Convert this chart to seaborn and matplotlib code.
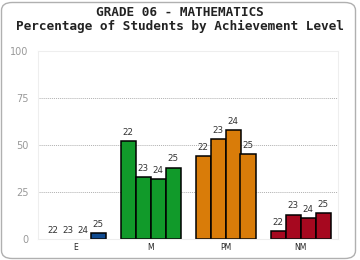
import matplotlib
matplotlib.use("Agg")
import matplotlib.pyplot as plt
from matplotlib.patches import FancyBboxPatch
import seaborn as sns
import pandas as pd

# achievement levels and years
levels = ["E", "M", "PM", "NM"]
years = ["22", "23", "24", "25"]
level_colors = ["#0f4a8f", "#119a2a", "#d97c09", "#a6081f"]

# percentages per level, one value per year
pct_E = [0, 0, 0, 3]
pct_M = [52, 33, 32, 38]
pct_PM = [44, 53, 58, 45]
pct_NM = [4, 13, 11, 14]

rows = []
for lev, vals in zip(levels, [pct_E, pct_M, pct_PM, pct_NM]):
    for yr, v in zip(years, vals):
        rows.append({"level": lev, "year": yr, "pct": v})
df = pd.DataFrame(rows)

sns.set_style("white")
plt.rcParams["font.family"] = ["DejaVu Sans"]

fig = plt.figure(figsize=(3.6, 2.6), dpi=100)
fig.patches.append(FancyBboxPatch((1.5 / 360, 1.5 / 260), 354 / 360, 256 / 260,
                                  boxstyle="round,pad=0,rounding_size=0.03",
                                  transform=fig.transFigure, fill=False,
                                  edgecolor="#b0b0b0", linewidth=1.0))
ax = fig.add_axes([38 / 360, 21 / 260, 300 / 360, 188 / 260])

sns.barplot(data=df, x="level", y="pct", hue="year", order=levels,
            hue_order=years, width=0.8, edgecolor="black", linewidth=1.1,
            legend=False, ax=ax, errorbar=None)

# colour every bar by its level and put the year above it
for yr, cont in zip(years, ax.containers):
    for i, bar in enumerate(cont.patches):
        bar.set_facecolor(level_colors[i])
        if bar.get_height() == 0:
            bar.set_linewidth(0)
        ax.text(bar.get_x() + bar.get_width() / 2, bar.get_height() + 2.2, yr,
                ha="center", va="bottom", fontsize=6.3, color="#333333")

ax.set_ylim(0, 100)
ax.set_xlim(-0.5, 3.5)
ax.set_yticks([0, 25, 50, 75, 100])
ax.tick_params(axis="y", colors="#999999", labelsize=7, length=4, width=0.8,
               pad=3)
ax.tick_params(axis="x", colors="#222222", labelsize=5.5, length=0, pad=3)
for v in [25, 50, 75]:
    ax.axhline(v, color="#b0b0b0", linestyle=(0, (1, 1)), linewidth=0.7,
               zorder=0)
for s in ["top", "right", "left"]:
    ax.spines[s].set_color("#eeeeee")
    ax.spines[s].set_linewidth(0.8)
ax.spines["bottom"].set_color("#eeeeee")
ax.set_xlabel("")
ax.set_ylabel("")

fig.text(0.5, 1 - 13 / 260, "GRADE 06 - MATHEMATICS", ha="center",
         va="center", fontsize=9.2, fontweight="bold",
         family="DejaVu Sans Mono", color="#222222")
fig.text(0.5, 1 - 26 / 260, "Percentage of Students by Achievement Level",
         ha="center", va="center", fontsize=9.2, fontweight="bold",
         family="DejaVu Sans Mono", color="#222222")

fig.savefig("out.png", dpi=100)
